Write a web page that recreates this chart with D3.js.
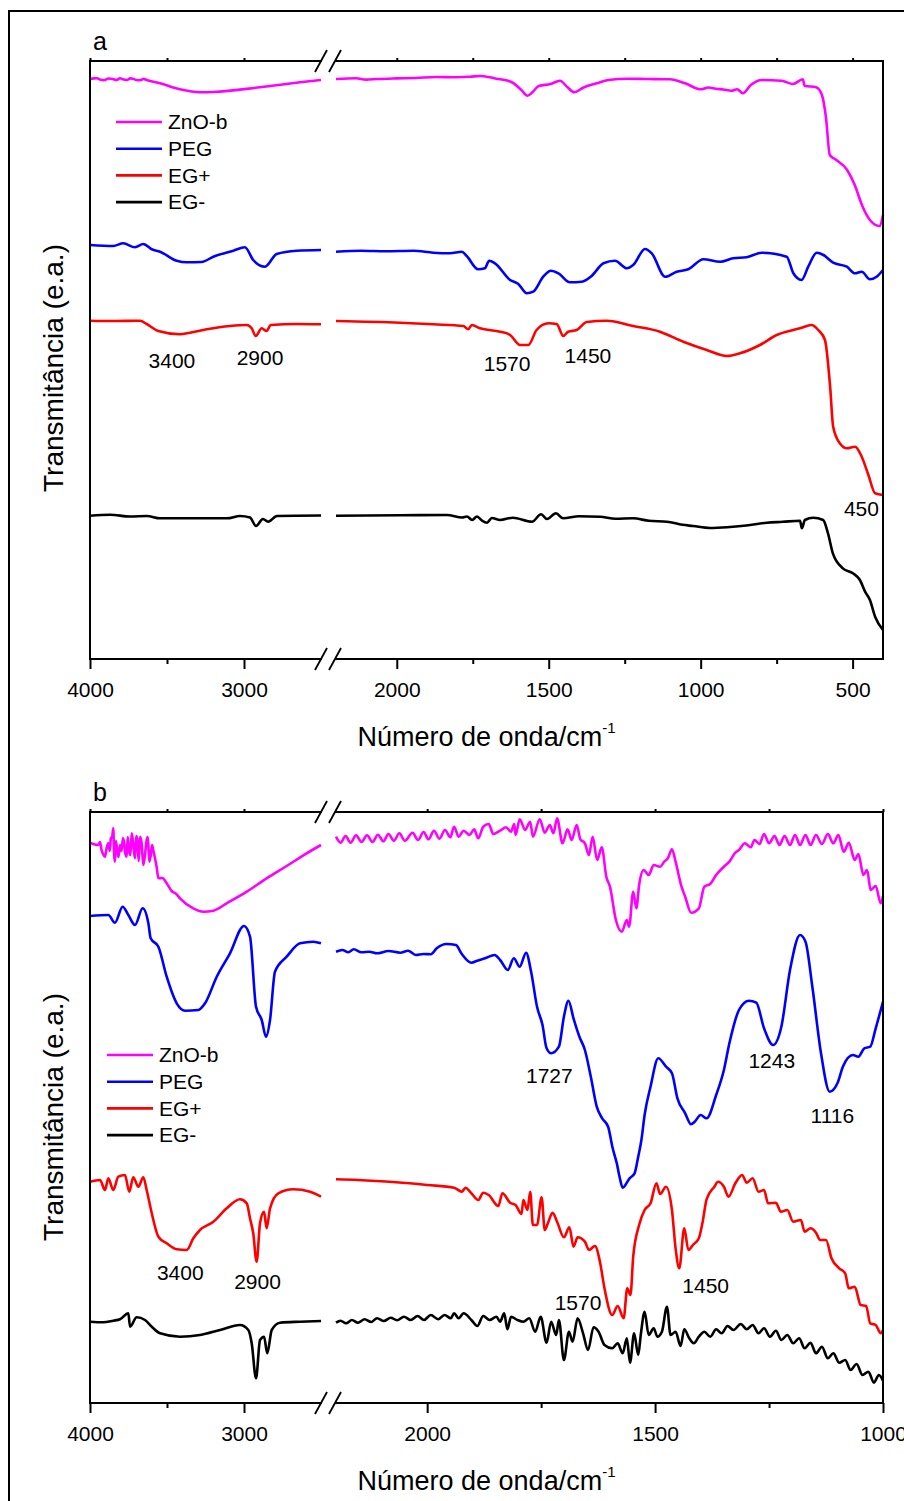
<!DOCTYPE html>
<html><head><meta charset="utf-8">
<script src="https://cdn.jsdelivr.net/npm/d3@7"></script>
<style>
html,body{margin:0;padding:0;background:#fff;}
svg{display:block;font-family:"Liberation Sans",Arial,Helvetica,sans-serif;}
</style></head><body>
<svg id="fig" width="904" height="1501"></svg>
<script>
// FTIR spectra, [wavenumber (cm-1), transmittance (a.u.)]; the axis is broken between 2500 and 2200 cm-1.
const seriesNames = ["ZnO-b", "PEG", "EG+", "EG-"];
const seriesColors = ["#ff00ff", "#0000ff", "#ff0000", "#000000"];

// ---- panel a: 4000-400 cm-1 ----
const zno_a = [[4000,579.7],[3975,580.6],[3955,580.7],[3930,579.2],[3909,578.8],[3880,580.5],[3851,580],[3828,579],[3805,580.8],[3782,579.4],[3760,579],[3740,580.6],[3721,580.2],[3698,579],[3675,578.8],[3652,580.1],[3632,579],[3545,575.7],[3416,569.7],[3286,566.7],[3199,567],[2896,571.7],[2636,576.7],[2500,579],
[2200,580],[2134,580.8],[2101,579.4],[2065,580],[2000,580.6],[1938,581],[1870,582],[1812,581.7],[1760,582.3],[1723,583],[1672,580.3],[1634,578.3],[1615,575.7],[1590,569],[1570,563.3],[1552,567.3],[1533,573],[1494,575],[1463,578.3],[1438,571.7],[1416,566.7],[1387,571.3],[1342,575.7],[1304,579],[1240,580.3],[1178,580],[1102,579.7],[1051,575.7],[1000,569.7],[975,571.5],[950,570.3],[925,569.5],[899,568.3],[880,569.8],[861,565.7],[835,574],[798,579],[734,578.3],[696,575],[664,579.7],[658,573.3],[620,571.7],[601,564],[588,542.3],[575,504],[557,499.7],[518,489],[493,474],[468,453],[443,439],[411,433],[400,444]];

const peg_a = [[4000,414],[3849,413],[3784,415.7],[3708,411.7],[3654,415],[3599,409.7],[3545,407.3],[3437,398.3],[3372,396.7],[3275,397],[3199,402.3],[3069,408.3],[2994,411.7],[2940,399],[2864,392.3],[2788,405],[2658,408.3],[2500,409],
[2200,407.3],[2118,408.3],[2036,407.8],[1946,408.3],[1880,406.3],[1825,405.7],[1786,407.3],[1770,403],[1732,389.7],[1710,390.7],[1696,398.3],[1677,395.7],[1627,379],[1600,375],[1572,365.7],[1551,367.3],[1518,382.3],[1493,388.3],[1468,385.7],[1430,376.7],[1391,377.3],[1359,383],[1320,395.7],[1282,398.3],[1243,390.7],[1222,394],[1183,410],[1161,405.7],[1117,382.3],[1079,387.3],[1041,389.7],[991,399.7],[936,397.3],[893,400.7],[849,401.7],[799,406.3],[717,402.3],[695,385.7],[668,379],[646,392.3],[618,406.3],[596,404],[564,396.3],[519,392.3],[492,385.7],[470,387.3],[443,379.7],[421,382.3],[400,389]];

const egPlus_a = [[4000,338.3],[3849,338],[3675,338.3],[3632,335],[3556,328],[3416,324.7],[3351,326.3],[3242,329.7],[3091,333],[2982,334],[2950,330.7],[2924,323],[2885,330.7],[2853,328],[2827,334],[2658,335],[2500,334.7],
[2200,338],[1989,336.3],[1880,334.7],[1781,333],[1765,329.7],[1753,334],[1726,330.7],[1660,327.3],[1627,324],[1594,314],[1567,314],[1540,329],[1501,335.7],[1474,335],[1452,323],[1436,327.3],[1408,329],[1375,337],[1309,338.3],[1222,333],[1134,327.3],[1057,317.3],[980,309],[914,303],[871,305.7],[805,314],[750,324],[673,330.7],[635,334],[613,329],[591,319],[574,272.3],[564,232.3],[542,215.7],[519,210.7],[492,212.3],[470,202.3],[448,184],[426,165.7],[400,164]];

const egMinus_a = [[4000,143.3],[3870,144.2],[3740,142.5],[3630,143],[3545,140.7],[3110,140.7],[3026,143],[2961,141.5],[2922,133],[2877,140],[2844,137.3],[2786,143],[2500,143.5],
[2200,143.3],[1989,143.7],[1835,144],[1785,141.5],[1769,142.5],[1752,139],[1736,142.5],[1720,138.5],[1703,136.3],[1687,141],[1660,139],[1618,141.3],[1555,137.3],[1525,144.7],[1506,140],[1476,145.7],[1453,140.7],[1400,142.8],[1331,142.3],[1280,140.2],[1223,140.7],[1170,138.2],[1111,137.3],[1060,134.2],[1025,133],[970,131],[913,131.7],[850,133.5],[782,136.3],[730,137.2],[673,138.3],[667,130.7],[657,139],[630,141.3],[597,139],[581,125.7],[565,105.7],[532,90.7],[499,85.7],[476,79],[459,67.3],[443,59],[426,42.3],[400,29]];

// ---- panel b: 4000-1000 cm-1 ----
const zno_b = [[4000,560.3],[3946,558],[3935,561],[3925,553],[3915,549],[3903,546.3],[3892,555],[3881,559.7],[3872,552],[3864,565],[3856,566],[3849,574.7],[3843,548],[3838,541.3],[3832,562],[3825,555],[3815,546],[3805,558],[3795,552],[3786,565],[3778,560],[3770,549],[3762,546.3],[3755,566],[3747,553],[3738,548],[3729,569.7],[3720,560],[3708,544.7],[3700,567],[3692,563],[3684,542],[3675,566.3],[3665,560],[3654,538],[3643,548],[3632,563],[3624,566],[3615,541.3],[3606,547],[3597,558],[3588,552],[3578,544.7],[3567,536],[3556,524.7],[3530,525],[3502,519.7],[3470,512],[3440,509],[3416,504.7],[3329,494.7],[3264,491.3],[3199,492.3],[3112,499.7],[2982,511.3],[2853,524.7],[2723,537],[2593,549.7],[2500,558],
[2200,566.3],[2190,560.3],[2179,567],[2168,560.3],[2156,567.7],[2144,561],[2132,567.7],[2120,561],[2108,568.3],[2096,561.7],[2085,569],[2073,562.3],[2061,569.7],[2049,562.3],[2032,570.3],[2020,563],[2008,571],[1997,563.7],[1985,572.3],[1973,564.3],[1961,573],[1949,565.7],[1941,576.3],[1931,566.3],[1920,572.3],[1907,568],[1897,573.7],[1888,564.7],[1877,576.3],[1865,579],[1855,569],[1840,572.3],[1827,575.7],[1816,571.3],[1809,579],[1806,568],[1797,583.7],[1785,573],[1774,581.3],[1768,566.3],[1753,583.7],[1742,570.3],[1731,578],[1723,569.7],[1715,584.7],[1703,559.7],[1692,573.7],[1683,563],[1672,578],[1664,563.7],[1654,559.7],[1645,548],[1637,566.3],[1627,543],[1617,555.7],[1607,526.3],[1599,516.3],[1586,483],[1573,471.3],[1562,483],[1557,476.3],[1548,511.3],[1541,494.7],[1535,518],[1525,533],[1514,528],[1503,538],[1489,536.3],[1480,541.3],[1472,544.7],[1463,553.7],[1455,541.3],[1442,516.3],[1434,506.3],[1421,490.3],[1404,494.7],[1392,516.3],[1379,519],[1366,528],[1349,536.3],[1337,541.3],[1324,550.3],[1316,553],[1303,559.7],[1290,555.7],[1282,563],[1271,559],[1261,569],[1250,559.7],[1238,567],[1227,558],[1216,567],[1204,558],[1193,568],[1182,558],[1170,568],[1159,558],[1147,568],[1134,559],[1121,569],[1109,559.7],[1098,568],[1086,551.3],[1075,560.3],[1062,543],[1054,549],[1043,528],[1035,533],[1027,513],[1016,517],[1005,499.7],[1000,507]];

const peg_b = [[4000,487],[3881,488],[3838,480.3],[3788,496.3],[3751,488],[3708,478],[3658,494.7],[3621,479.7],[3606,464.7],[3556,456.3],[3502,426.3],[3437,399.7],[3383,392.3],[3297,393],[3253,399.7],[3177,426.3],[3091,449.7],[3000,477],[2961,466.3],[2922,396.3],[2885,383],[2857,366.3],[2831,383],[2799,431.3],[2723,446.3],[2636,459.7],[2550,461.3],[2500,459.7],
[2200,451.3],[2186,453],[2173,450.7],[2161,453.7],[2144,450.7],[2127,451.3],[2110,449.7],[2085,452],[2059,450.3],[2042,452.3],[2025,448],[2008,449],[1992,448.7],[1979,454.7],[1958,459],[1937,458],[1924,449],[1903,440.3],[1890,442.3],[1873,444.7],[1852,448],[1840,443],[1823,433],[1810,444.7],[1797,436.3],[1783,450.3],[1772,431.3],[1759,396.3],[1747,378],[1738,354.7],[1728,349.7],[1711,356.3],[1700,386.3],[1690,402.3],[1679,384.7],[1666,366.3],[1654,353],[1641,326.3],[1628,296.3],[1616,284.7],[1603,276.3],[1593,254.7],[1584,239.7],[1578,226.3],[1571,215.3],[1556,224.7],[1545,229.7],[1537,246.3],[1530,263],[1523,288],[1510,316.3],[1493,344.7],[1476,336.3],[1463,329.7],[1451,304.7],[1434,289.7],[1421,278.7],[1413,281.3],[1400,288],[1387,284.7],[1366,308],[1349,333],[1337,359.7],[1316,393],[1294,402.3],[1278,400.3],[1261,374.7],[1241,358],[1223,376.3],[1204,433],[1182,468],[1170,461.3],[1155,416.3],[1136,349.7],[1117,311.3],[1100,319.7],[1088,336.3],[1066,348],[1054,346.3],[1041,354.7],[1028,356.3],[1016,374.7],[1000,401.3]];

const egPlus_b = [[4000,221.3],[3935,223],[3903,213],[3881,224.7],[3849,213],[3816,226.3],[3773,228],[3745,211.3],[3719,225.7],[3686,216.3],[3654,225.7],[3632,213],[3599,189.7],[3556,166.3],[3502,159.7],[3437,153.7],[3372,153],[3329,164.7],[3286,173],[3199,181.3],[3112,194.7],[3026,203.7],[2982,199.7],[2961,184.7],[2940,169.7],[2918,141.3],[2896,179.7],[2870,191.3],[2853,174.7],[2831,194.7],[2777,209.7],[2680,213.7],[2571,211.3],[2500,206.3],
[2200,223.7],[2152,223],[2068,220.7],[2000,218],[1941,215.3],[1924,211.3],[1916,215.3],[1903,209.7],[1888,203],[1877,210.3],[1865,208],[1844,197],[1835,209.7],[1818,200.3],[1806,198],[1793,189],[1789,203],[1780,193],[1774,211.3],[1768,178],[1759,178],[1749,205.7],[1742,173],[1734,181.3],[1725,190.3],[1715,181.3],[1700,165.7],[1688,175.7],[1679,156.3],[1670,165.7],[1654,161.3],[1645,153],[1632,157],[1621,141.3],[1611,114.7],[1594,88],[1582,97],[1569,84.7],[1561,114.7],[1554,108],[1548,146.3],[1535,178],[1523,193],[1510,199.7],[1497,219.7],[1489,209],[1476,216.3],[1463,193],[1455,154.7],[1447,134.7],[1436,174.7],[1427,153],[1417,158],[1404,164.7],[1396,180.3],[1387,203.7],[1370,216.3],[1362,221.3],[1349,216.3],[1339,206.3],[1324,219.7],[1309,228],[1299,220.3],[1286,224.7],[1273,211.3],[1261,213],[1252,199.7],[1235,200.3],[1224,191.3],[1210,193],[1197,181.3],[1180,183],[1172,171.3],[1159,174.7],[1147,170.3],[1138,163],[1125,163],[1113,144.7],[1096,134.7],[1083,129.7],[1075,114.7],[1062,116.3],[1049,98],[1037,97],[1028,79.7],[1016,78],[1005,69.7],[1000,73]];

const egMinus_b = [[4000,81.3],[3914,80.7],[3849,82.3],[3805,83.7],[3751,89.7],[3740,76.3],[3697,85.7],[3643,83],[3599,76.3],[3545,69.7],[3416,66.3],[3286,68],[3156,73],[3026,78],[2972,73],[2950,59.7],[2922,24.7],[2896,63],[2870,66.3],[2849,49.7],[2820,73],[2766,80.3],[2636,81.3],[2500,82],
[2200,80.3],[2190,82.3],[2178,79.7],[2165,83],[2152,80.3],[2137,83.7],[2123,81],[2110,84.7],[2095,82],[2080,85.3],[2066,82.7],[2051,86.3],[2036,83],[2021,87],[2007,83],[1992,88],[1976,83.7],[1962,88],[1948,84.7],[1941,89.7],[1931,84.7],[1920,89.7],[1903,83],[1890,77],[1877,87],[1863,83],[1848,86.3],[1840,81.3],[1831,89.7],[1824,73.7],[1816,86.3],[1802,83],[1789,81.3],[1776,84.7],[1763,71.3],[1751,86.3],[1738,60.3],[1728,81.3],[1717,68],[1711,83],[1700,43],[1689,71.3],[1681,61.3],[1670,84.7],[1658,69.7],[1647,53],[1635,75.7],[1624,71.3],[1611,58],[1594,54.7],[1582,59.7],[1571,49.7],[1562,64.7],[1555,40.3],[1546,69.7],[1537,48],[1531,69.7],[1523,91.3],[1514,68],[1503,74.7],[1495,66.3],[1485,71.3],[1474,96.3],[1466,68],[1455,71.3],[1444,57],[1436,73.7],[1425,64.7],[1415,59.7],[1404,66.3],[1392,71.3],[1379,66.3],[1366,73.7],[1354,69.7],[1341,77],[1328,73],[1312,79],[1299,73.7],[1286,78],[1273,69.7],[1261,74.7],[1248,66.3],[1235,72.3],[1223,63],[1210,68],[1197,59.7],[1184,64.7],[1172,54.7],[1159,60.3],[1147,49.7],[1134,56.3],[1121,44.7],[1109,49.7],[1096,40.3],[1083,43],[1071,33],[1058,39],[1045,28],[1032,31.3],[1020,20.3],[1009,28],[1000,22.3]];

// band labels: [text, wavenumber, transmittance]
const notes_a = [["3400",3468,291],["2900",2896,294],["1570",1637,288],["1450",1371,296],["450",471,143]];
const notes_b = [["1727",1732,320],["1243",1244,335],["1116",1111,280],["3400",3414,123],["2900",2912,114],["1570",1669,93],["1450",1389,110]];

// tick values
const leftMajor = [4000, 3000];
const leftMinor = [3500];
const rightMajor_a = [2000, 1500, 1000, 500];
const rightMinor_a = [1750, 1250, 750];
const rightMajor_b = [2000, 1500, 1000];
const rightMinor_b = [1750, 1250];

const yTitle = "Transmitância (e.a.)";
const xTitle = "Número de onda/cm";

// ---- layout ----
const X0 = 90, XB1 = 321, XB2 = 336, X1 = 883;
const svg = d3.select("#fig");

// outer figure frame (open to the right and bottom)
svg.append("path").attr("d", "M9,1501V11H904")
  .attr("fill", "none").attr("stroke", "#000").attr("stroke-width", 2);

const panels = [
  { tag: "a", top: 61, bottom: 659, yMax: 598, rightEnd: 400,
    series: [zno_a, peg_a, egPlus_a, egMinus_a], notes: notes_a,
    rMajor: rightMajor_a, rMinor: rightMinor_a, legendX: 116, legendY: 122, yLabelC: 368 },
  { tag: "b", top: 812, bottom: 1403, yMax: 591, rightEnd: 1000,
    series: [zno_b, peg_b, egPlus_b, egMinus_b], notes: notes_b,
    rMajor: rightMajor_b, rMinor: rightMinor_b, legendX: 107, legendY: 1055, yLabelC: 1117 }
];

function styleAxis(g) {
  g.select(".domain").remove();
  g.selectAll(".tick line").attr("stroke", "#000").attr("stroke-width", 2);
  g.selectAll(".tick text").attr("fill", "#000")
    .attr("font-family", "'Liberation Sans', Arial, sans-serif").attr("font-size", 21);
}

panels.forEach(p => {
  const xl = d3.scaleLinear().domain([4000, 2500]).range([X0, XB1]);
  const xr = d3.scaleLinear().domain([2200, p.rightEnd]).range([XB2, X1]);
  const xs = w => (w >= 2500 ? xl(w) : xr(w));
  const y = d3.scaleLinear().domain([0, p.yMax]).range([p.bottom, p.top]);
  const g = svg.append("g");

  // spectra, drawn per axis segment
  const line = sc => d3.line().x(d => sc(d[0])).y(d => y(d[1])).curve(d3.curveMonotoneX);
  p.series.forEach((s, i) => {
    const left = s.filter(d => d[0] >= 2500);
    const right = s.filter(d => d[0] <= 2200);
    [[left, xl], [right, xr]].forEach(([pts, sc]) => {
      g.append("path").datum(pts).attr("d", line(sc))
        .attr("fill", "none").attr("stroke", seriesColors[i])
        .attr("stroke-width", 2.6).attr("stroke-linejoin", "round");
    });
  });

  // bottom axis: major + minor ticks on both segments; top axis ticks only
  [[xl, leftMajor, leftMinor], [xr, p.rMajor, p.rMinor]].forEach(([sc, maj, mnr]) => {
    g.append("g").attr("transform", `translate(0,${p.bottom})`)
      .call(d3.axisBottom(sc).tickValues(maj).tickSize(10).tickPadding(13).tickFormat(d3.format("d")))
      .call(styleAxis);
    g.append("g").attr("transform", `translate(0,${p.bottom})`)
      .call(d3.axisBottom(sc).tickValues(mnr).tickSize(5).tickFormat(""))
      .call(styleAxis);
    g.append("g").attr("transform", `translate(0,${p.top})`)
      .call(d3.axisTop(sc).tickValues(maj.concat(mnr)).tickSize(3).tickFormat(""))
      .call(styleAxis);
  });

  // frame with gaps at the break
  const fr = `M${X0},${p.top}V${p.bottom}M${X1},${p.top}V${p.bottom}` +
    `M${X0},${p.top}H${XB1}M${XB2},${p.top}H${X1}` +
    `M${X0},${p.bottom}H${XB1}M${XB2},${p.bottom}H${X1}`;
  g.append("path").attr("d", fr).attr("fill", "none").attr("stroke", "#000")
    .attr("stroke-width", 2).attr("stroke-linecap", "square");

  // break marks
  [p.top, p.bottom].forEach(yy => {
    [XB1, XB2 - 1].forEach(bx => {
      g.append("line").attr("x1", bx - 6).attr("y1", yy + 11).attr("x2", bx + 6).attr("y2", yy - 11)
        .attr("stroke", "#000").attr("stroke-width", 1.8);
    });
  });

  // band labels
  p.notes.forEach(n => {
    g.append("text").attr("x", xs(n[1])).attr("y", y(n[2]))
      .attr("text-anchor", "middle").attr("font-size", 21).text(n[0]);
  });

  // legend
  seriesNames.forEach((name, i) => {
    const ly = p.legendY + i * 26.7;
    g.append("line").attr("x1", p.legendX).attr("x2", p.legendX + 46)
      .attr("y1", ly).attr("y2", ly).attr("stroke", seriesColors[i]).attr("stroke-width", 2.6);
    g.append("text").attr("x", p.legendX + 52).attr("y", ly).attr("dy", "0.35em")
      .attr("font-size", 21).text(name);
  });

  // panel tag
  g.append("text").attr("x", 93).attr("y", p.top - 11).attr("font-size", 25).text(p.tag);

  // axis titles
  g.append("text").attr("transform", `translate(63,${p.yLabelC}) rotate(-90)`)
    .attr("text-anchor", "middle").attr("font-size", 28).text(yTitle);
  const xt = g.append("text").attr("x", (X0 + X1) / 2).attr("y", p.bottom + 87)
    .attr("text-anchor", "middle").attr("font-size", 27);
  xt.append("tspan").text(xTitle);
  xt.append("tspan").attr("font-size", 15).attr("dy", -13).text("-1");
});
</script>
</body></html>
